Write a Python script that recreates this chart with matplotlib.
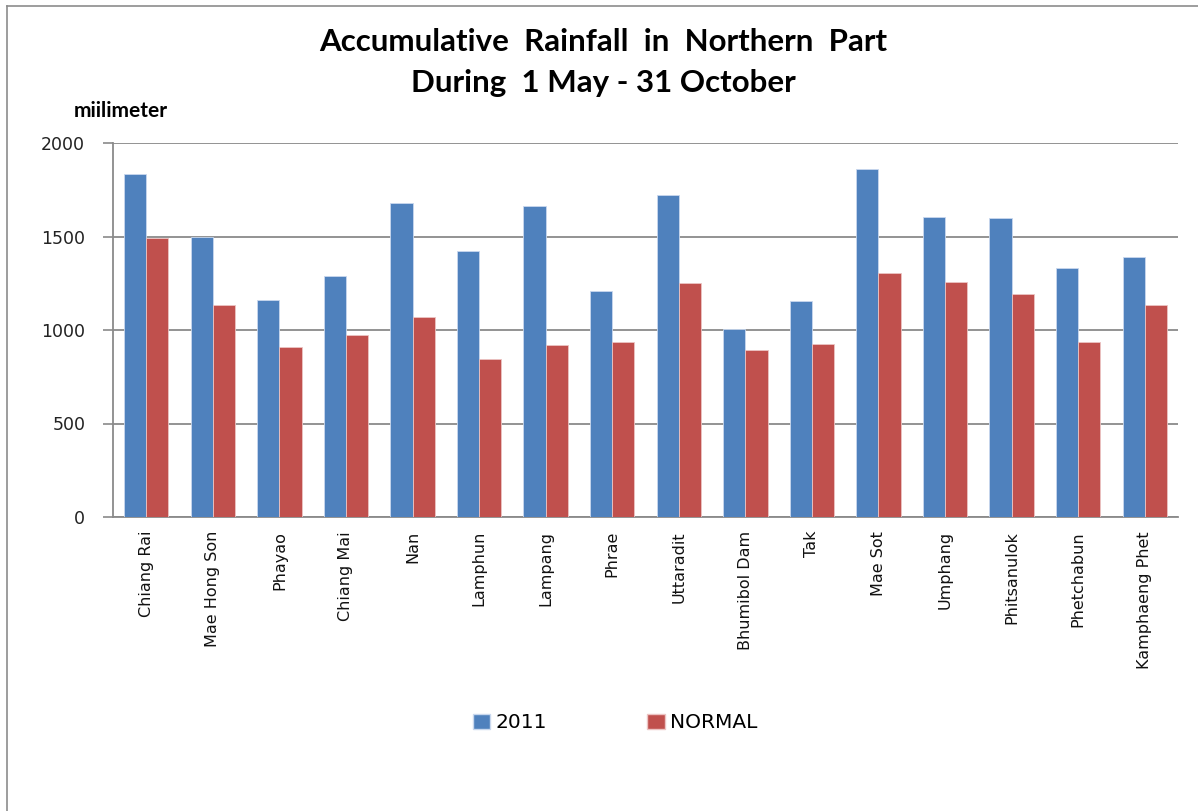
import numpy as np
import matplotlib.pyplot as plt
import matplotlib.patches as mpatches
from matplotlib.lines import Line2D

estaciones = ['Chiang Rai', 'Mae Hong Son', 'Phayao', 'Chiang Mai', 'Nan',
              'Lamphun', 'Lampang', 'Phrae', 'Uttaradit', 'Bhumibol Dam',
              'Tak', 'Mae Sot', 'Umphang', 'Phitsanulok', 'Phetchabun',
              'Kamphaeng Phet']
lluvia_2011 = [1832, 1500, 1160, 1290, 1679, 1422, 1663, 1208, 1722, 1005,
               1157, 1861, 1604, 1597, 1332, 1388]
lluvia_normal = [1491, 1134, 909, 973, 1067, 845, 918, 934, 1249, 893,
                 924, 1305, 1257, 1190, 934, 1134]
yticks = [0, 500, 1000, 1500, 2000]

azul = '#4F81BD'
rojo = '#C0504D'

W, H = 1198, 811
fig = plt.figure(figsize=(W / 100, H / 100), dpi=100)
fig.patch.set_facecolor('white')

# marco exterior (solo izquierda y arriba visibles)
fig.add_artist(Line2D([7 / W, 7 / W], [0, 1 - 6 / H], color='#8c8c8c', lw=1.2))
fig.add_artist(Line2D([7 / W, 1], [1 - 6 / H, 1 - 6 / H], color='#8c8c8c', lw=1.2))

ax = fig.add_axes([113 / W, (H - 517) / H, (1178 - 113) / W, (517 - 143) / H])

x = np.arange(len(estaciones))
ancho = 1 / 3
ax.bar(x - ancho / 2, lluvia_2011, ancho, color=azul, edgecolor='#c9d8ee',
       linewidth=0.6, zorder=3)
ax.bar(x + ancho / 2, lluvia_normal, ancho, color=rojo, edgecolor='#ecc4c3',
       linewidth=0.6, zorder=3)

ax.set_xlim(-0.5, len(estaciones) - 0.5)
ax.set_ylim(0, 2000)
ax.set_yticks(yticks)
ax.set_yticklabels([str(v) for v in yticks], fontsize=12.5, family='DejaVu Sans',
                   color='#222222')
ax.yaxis.grid(True, color='#8a8a8a', linewidth=1.3, zorder=0)
ax.set_axisbelow(True)
ax.tick_params(axis='y', length=7, width=1.2, color='#8a8a8a', pad=13)
ax.tick_params(axis='x', length=0, pad=10)
ax.set_xticks(x)
ax.set_xticklabels(estaciones, rotation=90, fontsize=11.5, family='DejaVu Sans',
                   va='top', ha='center', color='#111111')

for lado in ['top', 'right']:
    ax.spines[lado].set_visible(False)
for lado in ['left', 'bottom']:
    ax.spines[lado].set_color('#8a8a8a')
    ax.spines[lado].set_linewidth(1.3)

fig.text(603 / W, 1 - 42 / H, 'Accumulative  Rainfall  in  Northern  Part',
         ha='center', va='center', fontsize=22.5, fontweight='bold', family='Lato')
fig.text(603 / W, 1 - 83 / H, 'During  1 May - 31 October',
         ha='center', va='center', fontsize=22.5, fontweight='bold', family='Lato')
fig.text(121 / W, 1 - 111 / H, 'miilimeter', ha='center', va='center',
         fontsize=15, fontweight='bold', family='Lato')

handles = [mpatches.Patch(facecolor=azul, edgecolor='#c9d8ee', label='2011'),
           mpatches.Patch(facecolor=rojo, edgecolor='#ecc4c3', label='NORMAL')]
fig.legend(handles=handles, loc='center', bbox_to_anchor=(615 / W, 1 - 723 / H),
           ncol=2, frameon=False, prop={'family': 'DejaVu Sans', 'size': 14.5},
           handlelength=0.85, handleheight=0.8, handletextpad=0.25,
           columnspacing=5.0)

plt.savefig('out.png', dpi=100, facecolor=fig.get_facecolor())
